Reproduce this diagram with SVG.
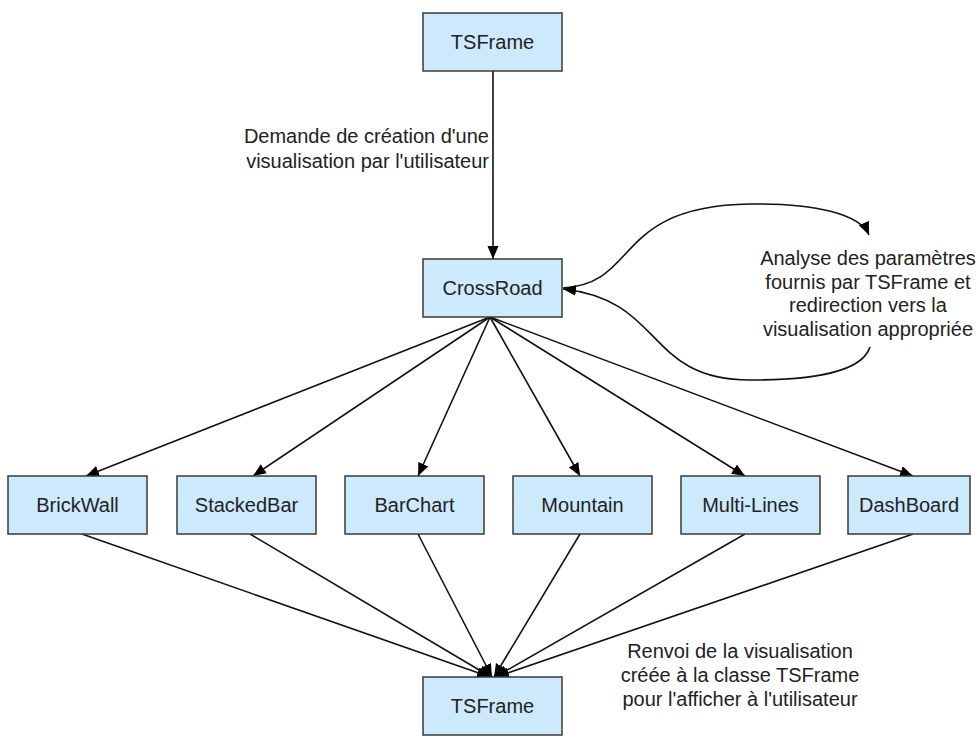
<svg xmlns="http://www.w3.org/2000/svg" width="978" height="736" viewBox="0 0 978 736">
<style>
.box{fill:#cdeafc;stroke:#3a3a3a;stroke-width:1.5}
.lbl{font-family:"Liberation Sans",Arial,sans-serif;font-size:20px;fill:#222;text-anchor:middle}
.note{font-family:"Liberation Sans",Arial,sans-serif;font-size:20px;fill:#222}
.edge{fill:none;stroke:#111;stroke-width:1.6}
</style>
<defs>
<marker id="ah" markerUnits="userSpaceOnUse" markerWidth="14" markerHeight="12" refX="13" refY="5.5" orient="auto">
<path d="M0,0 L13,5.5 L0,11 z" fill="#000"/>
</marker>
</defs>
<rect width="978" height="736" fill="#fff"/>
<g id="connectors">
<line class="edge" x1="493" y1="71" x2="493" y2="259" marker-end="url(#ah)"/>
<line class="edge" x1="490" y1="317" x2="86" y2="476" marker-end="url(#ah)"/>
<line class="edge" x1="490" y1="317" x2="253" y2="476" marker-end="url(#ah)"/>
<line class="edge" x1="490" y1="317" x2="418" y2="476" marker-end="url(#ah)"/>
<line class="edge" x1="490" y1="317" x2="580" y2="476" marker-end="url(#ah)"/>
<line class="edge" x1="490" y1="317" x2="745" y2="476" marker-end="url(#ah)"/>
<line class="edge" x1="490" y1="317" x2="913" y2="476" marker-end="url(#ah)"/>
<line class="edge" x1="82" y1="534" x2="490" y2="677" marker-end="url(#ah)"/>
<line class="edge" x1="250" y1="534" x2="491" y2="677" marker-end="url(#ah)"/>
<line class="edge" x1="418" y1="534" x2="492" y2="677" marker-end="url(#ah)"/>
<line class="edge" x1="580" y1="534" x2="494" y2="677" marker-end="url(#ah)"/>
<line class="edge" x1="745" y1="534" x2="495" y2="677" marker-end="url(#ah)"/>
<line class="edge" x1="913" y1="534" x2="496" y2="677" marker-end="url(#ah)"/>
<path class="edge" d="M 563 288 C 640 284, 612 206, 750 204 C 815 203, 860 214, 869 235" marker-end="url(#ah)"/>
<path class="edge" d="M 870 347 C 862 372, 815 380, 750 380 C 645 380, 665 300, 563 289" marker-end="url(#ah)"/>
<text class="note" x="489" y="143" text-anchor="end">Demande de création d'une</text>
<text class="note" x="489" y="168" text-anchor="end">visualisation par l'utilisateur</text>
<text class="note" x="868" y="265" text-anchor="middle">Analyse des paramètres</text>
<text class="note" x="868" y="289" text-anchor="middle">fournis par TSFrame et</text>
<text class="note" x="868" y="312" text-anchor="middle">redirection vers la</text>
<text class="note" x="868" y="336" text-anchor="middle">visualisation appropriée</text>
<text class="note" x="740" y="658" text-anchor="middle">Renvoi de la visualisation</text>
<text class="note" x="740" y="682" text-anchor="middle">créée à la classe TSFrame</text>
<text class="note" x="740" y="706" text-anchor="middle">pour l'afficher à l'utilisateur</text>
</g>
<g id="tsframe-top"><rect class="box" x="423" y="13" width="139" height="58"/><text class="lbl" x="492.5" y="49">TSFrame</text></g>
<g id="crossroad"><rect class="box" x="423" y="259" width="139" height="58"/><text class="lbl" x="492.5" y="295">CrossRoad</text></g>
<g id="brickwall"><rect class="box" x="8" y="476" width="139" height="58"/><text class="lbl" x="77.5" y="512">BrickWall</text></g>
<g id="stackedbar"><rect class="box" x="177" y="476" width="139" height="58"/><text class="lbl" x="246.5" y="512">StackedBar</text></g>
<g id="barchart"><rect class="box" x="345" y="476" width="139" height="58"/><text class="lbl" x="414.5" y="512">BarChart</text></g>
<g id="mountain"><rect class="box" x="513" y="476" width="139" height="58"/><text class="lbl" x="582.5" y="512">Mountain</text></g>
<g id="multilines"><rect class="box" x="681" y="476" width="139" height="58"/><text class="lbl" x="750.5" y="512">Multi-Lines</text></g>
<g id="dashboard"><rect class="box" x="848" y="476" width="122" height="58"/><text class="lbl" x="909" y="512">DashBoard</text></g>
<g id="tsframe-bottom"><rect class="box" x="423" y="677" width="139" height="58"/><text class="lbl" x="492.5" y="713">TSFrame</text></g>
</svg>
